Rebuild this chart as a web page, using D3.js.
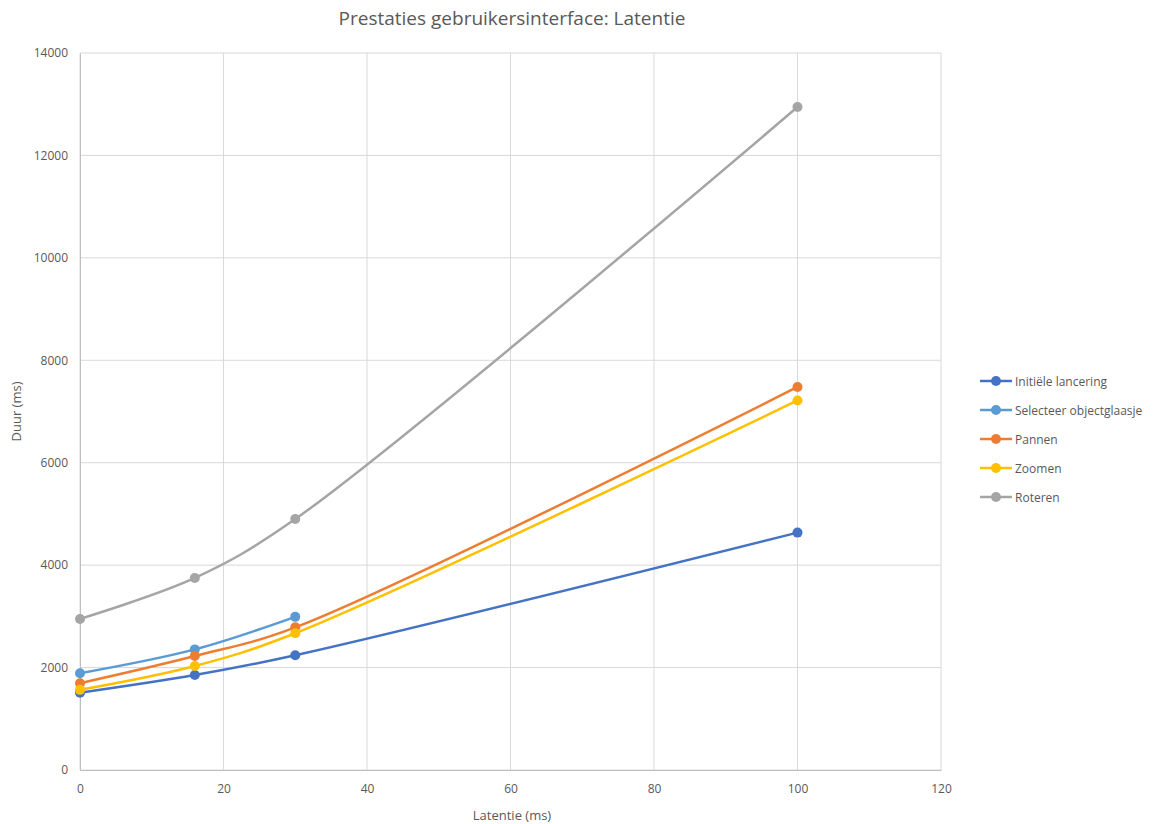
<!DOCTYPE html>
<html>
<head>
<meta charset="utf-8">
<script src="https://cdn.jsdelivr.net/npm/d3@7"></script>
<style>
  body { margin: 0; background: #fff; }
  text { font-family: "Open Sans", "Noto Sans", sans-serif; fill: #595959; }
</style>
</head>
<body>
<div id="chart"></div>
<script>
const latency = [0, 16, 30, 100];
const seriesNames = ["Initiële lancering", "Selecteer objectglaasje", "Pannen", "Zoomen", "Roteren"];
const initieleLancering = [1510, 1855, 2240, 4635];
const selecteerObjectglaasje = [1890, 2355, 2990, null];
const pannen = [1695, 2225, 2785, 7480];
const zoomen = [1565, 2030, 2670, 7215];
const roteren = [2950, 3750, 4900, 12945];
const xTicks = [0, 20, 40, 60, 80, 100, 120];
const yTicks = [0, 2000, 4000, 6000, 8000, 10000, 12000, 14000];
const colors = ["#4472C4", "#5B9BD5", "#ED7D31", "#FFC000", "#A5A5A5"];

const allSeries = [initieleLancering, selecteerObjectglaasje, pannen, zoomen, roteren];

const width = 1153, height = 824;
const margin = { top: 53, right: 212, bottom: 54, left: 80 };
const innerW = width - margin.left - margin.right;
const innerH = height - margin.top - margin.bottom;

const svg = d3.select("#chart").append("svg")
  .attr("width", width)
  .attr("height", height);

const g = svg.append("g")
  .attr("transform", `translate(${margin.left},${margin.top})`);

const x = d3.scaleLinear().domain([0, 120]).range([0, innerW]);
const y = d3.scaleLinear().domain([0, 14000]).range([innerH, 0]);

// gridlines
g.append("g")
  .selectAll("line.h")
  .data(yTicks)
  .join("line")
  .attr("x1", 0).attr("x2", innerW)
  .attr("y1", d => y(d)).attr("y2", d => y(d))
  .attr("stroke", "#d9d9d9").attr("stroke-width", 1);

g.append("g")
  .selectAll("line.v")
  .data(xTicks)
  .join("line")
  .attr("x1", d => x(d)).attr("x2", d => x(d))
  .attr("y1", 0).attr("y2", innerH)
  .attr("stroke", "#d9d9d9").attr("stroke-width", 1);

// axes
const xAxis = g.append("g")
  .attr("transform", `translate(0,${innerH})`)
  .call(d3.axisBottom(x).tickValues(xTicks).tickSize(0).tickPadding(14));
xAxis.select(".domain").attr("stroke", "#bfbfbf");
xAxis.selectAll("text").attr("font-size", "12px").attr("fill", "#595959");

const yAxis = g.append("g")
  .call(d3.axisLeft(y).tickValues(yTicks).tickFormat(d3.format("d")).tickSize(0).tickPadding(12));
yAxis.select(".domain").attr("stroke", "#bfbfbf");
yAxis.selectAll("text").attr("font-size", "12px").attr("fill", "#595959");

// lines
const line = d3.line()
  .x(d => x(d.x))
  .y(d => y(d.v))
  .curve(d3.curveCatmullRom.alpha(0.5));

allSeries.forEach((vals, i) => {
  const pts = latency.map((lx, j) => ({ x: lx, v: vals[j] })).filter(d => d.v !== null);
  g.append("path")
    .datum(pts)
    .attr("fill", "none")
    .attr("stroke", colors[i])
    .attr("stroke-width", 2.5)
    .attr("d", line);
  g.selectAll(null)
    .data(pts)
    .join("circle")
    .attr("cx", d => x(d.x))
    .attr("cy", d => y(d.v))
    .attr("r", 5)
    .attr("fill", colors[i]);
});

// title
svg.append("text")
  .attr("x", 512).attr("y", 25)
  .attr("text-anchor", "middle")
  .attr("font-size", "19px")
  .text("Prestaties gebruikersinterface: Latentie");

// axis titles
svg.append("text")
  .attr("x", 512).attr("y", 820)
  .attr("text-anchor", "middle")
  .attr("font-size", "13px")
  .text("Latentie (ms)");

svg.append("text")
  .attr("transform", `translate(21,${margin.top + innerH / 2}) rotate(-90)`)
  .attr("text-anchor", "middle")
  .attr("font-size", "13px")
  .text("Duur (ms)");

// legend
const legend = svg.append("g")
  .attr("transform", "translate(980,381)");

seriesNames.forEach((name, i) => {
  const row = legend.append("g").attr("transform", `translate(0,${i * 29})`);
  row.append("line")
    .attr("x1", 0).attr("x2", 32)
    .attr("stroke", colors[i]).attr("stroke-width", 2.5);
  row.append("circle")
    .attr("cx", 16).attr("r", 5).attr("fill", colors[i]);
  row.append("text")
    .attr("x", 35).attr("y", 4.5)
    .attr("font-size", "12px")
    .text(name);
});
</script>
</body>
</html>
